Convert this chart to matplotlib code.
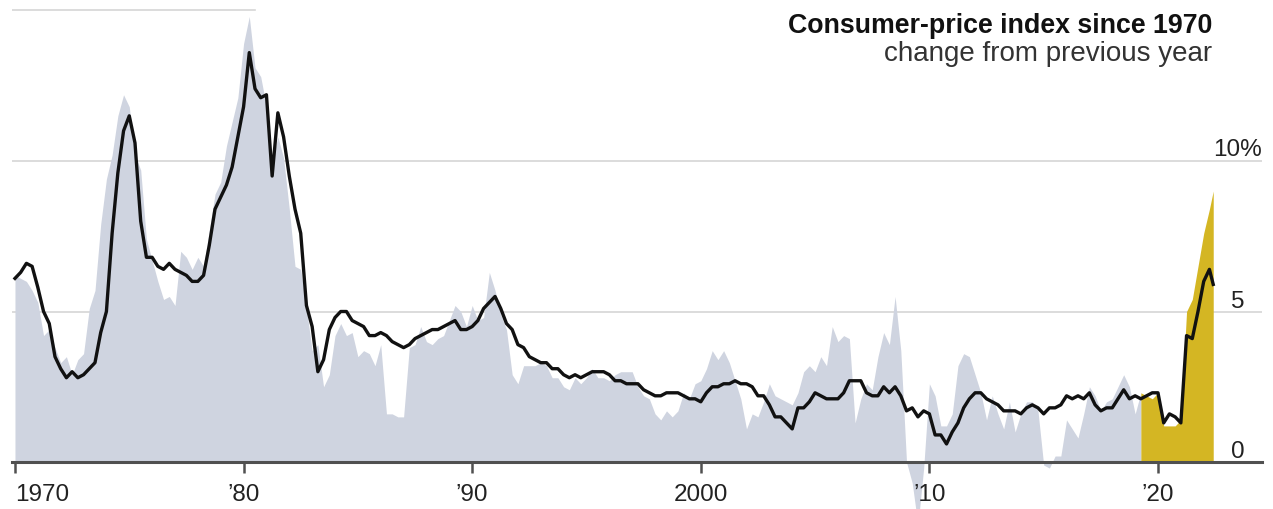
import numpy as np
import pandas as pd
import matplotlib
matplotlib.use("Agg")
import matplotlib.pyplot as plt

plt.rcParams['font.family'] = ['Liberation Sans', 'DejaVu Sans']

# 季度数据 (1月, 4月, 7月, 10月), 1970 - 2022, 最后一个点为 2022年6月
dates = list(pd.date_range('1970-01-01', '2022-04-01', freq='QS')) + [pd.Timestamp('2022-06-01')]

# 整体CPI, 同比 %
headline = [
    6.2, 6.1, 6.0, 5.7,   5.3, 4.2, 4.4, 3.8,   3.3, 3.5, 2.9, 3.4,   3.6, 5.1, 5.7, 7.9,
    9.4, 10.2, 11.5, 12.2, 11.8, 10.2, 9.7, 7.4, 6.7, 6.0, 5.4, 5.5,  5.2, 7.0, 6.8, 6.4,
    6.8, 6.5, 7.7, 8.9,   9.3, 10.5, 11.3, 12.1, 13.9, 14.8, 13.1, 12.8, 11.8, 10.0, 10.8, 10.1,
    8.4, 6.5, 6.4, 5.1,   3.7, 3.9, 2.5, 2.9,   4.2, 4.6, 4.2, 4.3,   3.5, 3.7, 3.6, 3.2,
    3.9, 1.6, 1.6, 1.5,   1.5, 3.8, 3.9, 4.5,   4.0, 3.9, 4.1, 4.2,   4.7, 5.2, 5.0, 4.5,
    5.2, 4.7, 4.8, 6.3,   5.7, 4.9, 4.4, 2.9,   2.6, 3.2, 3.2, 3.2,   3.3, 3.2, 2.8, 2.8,
    2.5, 2.4, 2.8, 2.6,   2.8, 3.1, 2.8, 2.8,   2.7, 2.9, 3.0, 3.0,   3.0, 2.5, 2.2, 2.1,
    1.6, 1.4, 1.7, 1.5,   1.7, 2.3, 2.1, 2.6,   2.7, 3.1, 3.7, 3.4,   3.7, 3.3, 2.7, 2.1,
    1.1, 1.6, 1.5, 2.0,   2.6, 2.2, 2.1, 2.0,   1.9, 2.3, 3.0, 3.2,   3.0, 3.5, 3.2, 4.5,
    4.0, 4.2, 4.1, 1.3,   2.1, 2.6, 2.4, 3.5,   4.3, 3.9, 5.5, 3.7,   0.0, -0.7, -2.1, -0.2,
    2.6, 2.2, 1.2, 1.2,   1.6, 3.2, 3.6, 3.5,   2.9, 2.3, 1.4, 2.2,   1.6, 1.1, 2.0, 1.0,
    1.6, 2.0, 2.0, 1.7,   -0.1, -0.2, 0.2, 0.2, 1.4, 1.1, 0.8, 1.6,   2.5, 2.2, 1.7, 2.0,
    2.1, 2.5, 2.9, 2.5,   1.6, 2.3, 2.2, 2.1,   2.3, 1.2, 1.2, 1.2,   1.4, 5.0, 5.4, 6.5,
    7.6, 8.4, 9.0,
]

# 核心CPI, 同比 %
core = [
    6.1, 6.3, 6.6, 6.5,   5.8, 5.0, 4.6, 3.5,   3.1, 2.8, 3.0, 2.8,   2.9, 3.1, 3.3, 4.3,
    5.0, 7.6, 9.6, 11.0,  11.5, 10.6, 8.0, 6.8,  6.8, 6.5, 6.4, 6.6,   6.4, 6.3, 6.2, 6.0,
    6.0, 6.2, 7.2, 8.4,   8.8, 9.2, 9.8, 10.8,  11.8, 13.6, 12.4, 12.1, 12.2, 9.5, 11.6, 10.8,
    9.5, 8.4, 7.6, 5.2,   4.5, 3.0, 3.4, 4.4,   4.8, 5.0, 5.0, 4.7,   4.6, 4.5, 4.2, 4.2,
    4.3, 4.2, 4.0, 3.9,   3.8, 3.9, 4.1, 4.2,   4.3, 4.4, 4.4, 4.5,   4.6, 4.7, 4.4, 4.4,
    4.5, 4.7, 5.1, 5.3,   5.5, 5.1, 4.6, 4.4,   3.9, 3.8, 3.5, 3.4,   3.3, 3.3, 3.1, 3.1,
    2.9, 2.8, 2.9, 2.8,   2.9, 3.0, 3.0, 3.0,   2.9, 2.7, 2.7, 2.6,   2.6, 2.6, 2.4, 2.3,
    2.2, 2.2, 2.3, 2.3,   2.3, 2.2, 2.1, 2.1,   2.0, 2.3, 2.5, 2.5,   2.6, 2.6, 2.7, 2.6,
    2.6, 2.5, 2.2, 2.2,   1.9, 1.5, 1.5, 1.3,   1.1, 1.8, 1.8, 2.0,   2.3, 2.2, 2.1, 2.1,
    2.1, 2.3, 2.7, 2.7,   2.7, 2.3, 2.2, 2.2,   2.5, 2.3, 2.5, 2.2,   1.7, 1.8, 1.5, 1.7,
    1.6, 0.9, 0.9, 0.6,   1.0, 1.3, 1.8, 2.1,   2.3, 2.3, 2.1, 2.0,   1.9, 1.7, 1.7, 1.7,
    1.6, 1.8, 1.9, 1.8,   1.6, 1.8, 1.8, 1.9,   2.2, 2.1, 2.2, 2.1,   2.3, 1.9, 1.7, 1.8,
    1.8, 2.1, 2.4, 2.1,   2.2, 2.1, 2.2, 2.3,   2.3, 1.3, 1.6, 1.5,   1.3, 4.2, 4.1, 5.0,
    6.0, 6.4, 5.9,
]

year_ticks = [1970, 1980, 1990, 2000, 2010, 2020]
year_labels = ['1970', '\u201980', '\u201990', '2000', '\u201910', '\u201920']
highlight_start = 2019.25

x = np.array([d.year + (d.month - 1) / 12 for d in dates])
headline = np.array(headline)
core = np.array(core)

fig = plt.figure(figsize=(12.73, 5.10), dpi=100)
ax = fig.add_axes([12 / 1273, 0, 1250 / 1273, 1])
ax.set_xlim(1969.87, 2024.55)
ax.set_ylim(-1.56, 15.38)

# 网格线
for lv in [5, 10]:
    ax.axhline(lv, color='#d6d6d6', lw=1.2, zorder=0)
ax.plot([1969.87, 1980.5], [15, 15], color='#d6d6d6', lw=1.2, zorder=0)

m1 = x <= highlight_start
m2 = x >= highlight_start
ax.fill_between(x[m1], 0, headline[m1], color='#cfd4e0', lw=0, zorder=1)
ax.fill_between(x[m2], 0, headline[m2], color='#d4b623', lw=0, zorder=1)
ax.plot(x, core, color='#111111', lw=2.4, zorder=3, solid_joinstyle='round')

for s in ['top', 'left', 'right']:
    ax.spines[s].set_visible(False)
ax.spines['bottom'].set_position(('data', 0))
ax.spines['bottom'].set_color('#505050')
ax.spines['bottom'].set_linewidth(2.2)
ax.spines['bottom'].set_zorder(4)
ax.set_yticks([])
ax.set_xticks(year_ticks)
ax.set_xticklabels(year_labels)
ax.tick_params(axis='x', direction='out', length=8, width=1.8, color='#505050',
               labelsize=17.5, labelcolor='#222222', pad=7)
ax.get_xticklabels()[0].set_horizontalalignment('left')
ax.patch.set_visible(False)

# 右侧刻度标签
ax.text(2024.55, 10.2, '10%', ha='right', va='baseline', fontsize=17.5, color='#222222')
ax.text(2023.5, 5.15, '5', ha='center', va='baseline', fontsize=17.5, color='#222222')
ax.text(2023.5, 0.18, '0', ha='center', va='baseline', fontsize=17.5, color='#222222')

fig.text(1212 / 1273, 1 - 33 / 510, 'Consumer-price index since 1970', ha='right', va='baseline',
         fontsize=19.3, fontweight='bold', color='#111111')
fig.text(1212 / 1273, 1 - 61 / 510, 'change from previous year', ha='right', va='baseline',
         fontsize=20, color='#333333')

fig.savefig('out.png', dpi=100)
